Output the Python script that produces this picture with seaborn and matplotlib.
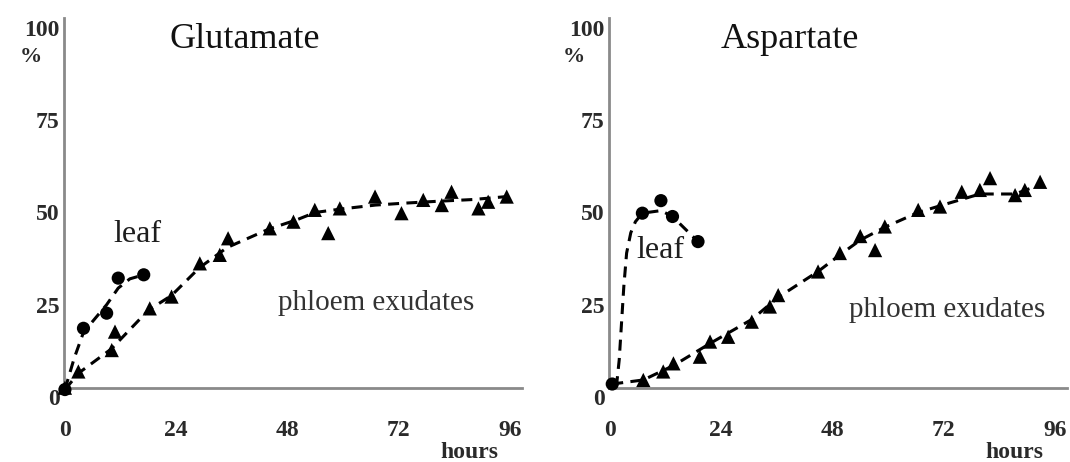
import matplotlib
matplotlib.use("Agg")
import matplotlib.pyplot as plt
import seaborn as sns

# ---- Glutamate -------------------------------------------------------------
glu_leaf_h = [0, 4, 9, 11.5, 17]
glu_leaf_pct = [2.0, 18.6, 22.7, 32.2, 33.1]
glu_leaf_trend_h = [0, 2, 4, 6, 9, 11.5, 14, 17]
glu_leaf_trend_pct = [2.0, 10.5, 17.5, 20.5, 25.0, 29.5, 32.0, 33.1]

glu_phl_h = [0, 2.9, 10.1, 10.8, 18.3, 23, 29.1, 33.4, 35.2, 44.2, 49.3,
             53.9, 56.8, 59.3, 66.9, 72.6, 77.3, 81.3, 83.4, 89.2, 91.3, 95.3]
glu_phl_pct = [2.5, 6.9, 12.7, 17.7, 24.0, 27.2, 36.2, 38.5, 43.0, 45.7, 47.5,
               50.7, 44.4, 51.1, 54.3, 49.8, 53.4, 52.0, 55.6, 51.1, 52.9, 54.3]
glu_phl_trend_h = [0, 3, 10, 18, 23, 29, 35, 44, 50, 54, 60, 67, 73, 80, 88, 95.3]
glu_phl_trend_pct = [2.0, 6.5, 13.0, 23.5, 27.5, 35.0, 40.5, 45.5, 48.0, 50.0,
                     51.0, 52.0, 52.5, 53.0, 53.5, 54.3]

# ---- Aspartate -------------------------------------------------------------
asp_leaf_h = [0.5, 7, 11, 13.5, 19]
asp_leaf_pct = [3.5, 49.8, 53.2, 48.9, 42.1]
asp_leaf_trend_h = [0.5, 1.5, 2.0, 2.5, 3.0, 3.6, 4.5, 5.5, 7, 11, 13.5, 19]
asp_leaf_trend_pct = [3.5, 4.0, 10.0, 20.0, 30.0, 39.0, 44.5, 47.5, 49.8, 50.5,
                      48.9, 42.1]

asp_phl_h = [7.2, 11.5, 13.7, 19.4, 21.6, 25.5, 30.6, 34.5, 36.3, 44.9, 49.6,
             54.0, 57.2, 59.3, 66.5, 71.2, 75.9, 79.8, 82.0, 87.4, 89.5, 92.8]
asp_phl_pct = [4.6, 6.9, 9.1, 10.9, 15.0, 16.3, 20.4, 24.5, 27.6, 34.0, 39.0,
               43.6, 39.8, 46.2, 50.7, 51.6, 55.6, 56.1, 59.3, 54.7, 56.1, 58.3]
asp_phl_trend_h = [0.5, 7.2, 13.7, 21.6, 30.6, 36.3, 44.9, 49.6, 54.0, 59.3,
                   66.5, 71.2, 79.8, 87.4, 92.8]
asp_phl_trend_pct = [3.5, 4.6, 8.5, 14.5, 21.0, 27.0, 34.0, 38.5, 42.5, 46.0,
                     50.0, 51.8, 55.0, 55.0, 57.5]

hour_ticks = [0, 24, 48, 72, 96]
pct_ticks = [0, 25, 50, 75, 100]

sns.set_style("white")
plt.rcParams["font.family"] = ["Liberation Serif", "DejaVu Serif"]

fig = plt.figure(figsize=(10.7, 4.62), dpi=100)
W, H = 1070, 462
ax_glu = fig.add_axes([64 / W, 54 / H, 458 / W, 390 / H])
ax_asp = fig.add_axes([609 / W, 54 / H, 458 / W, 390 / H])

AXIS_Y = 2.4   # data level where the horizontal axis line sits
TOP = 102.7
INK = "#1e1e1e"
LABEL = "#2a2a2a"


def dashed(ax, x, y):
    sns.lineplot(x=x, y=y, ax=ax, color="black", linewidth=2.2,
                 sort=False, estimator=None, zorder=2)
    line = ax.lines[-1]
    line.set_dashes([3.6, 2.4])
    line.set_dash_capstyle("butt")


def panel(ax, title, leaf_h, leaf_pct, leaf_th, leaf_tp,
          phl_h, phl_pct, phl_th, phl_tp, leaf_xy, phl_xy, pct_x):
    dashed(ax, leaf_th, leaf_tp)
    dashed(ax, phl_th, phl_tp)
    sns.scatterplot(x=phl_h, y=phl_pct, ax=ax, marker="^", s=105,
                    color="black", edgecolor="none", zorder=3, clip_on=False)
    sns.scatterplot(x=leaf_h, y=leaf_pct, ax=ax, marker="o", s=90,
                    color="black", edgecolor="none", zorder=3, clip_on=False)

    # axis frame first: moving a spine resets the tick objects
    for side in ("top", "right"):
        ax.spines[side].set_visible(False)
    for side in ("left", "bottom"):
        ax.spines[side].set_color("#8a8a8a")
        ax.spines[side].set_linewidth(2.0)
    ax.spines["bottom"].set_position(("data", AXIS_Y))
    ax.spines["left"].set_bounds(AXIS_Y, TOP)

    ax.set_xlim(-0.2, 98.6)
    ax.set_ylim(-3, TOP)
    ax.tick_params(axis="both", length=0, labelsize=17, colors=LABEL)
    ax.tick_params(axis="x", pad=23)
    ax.tick_params(axis="y", pad=3)
    ax.set_xticks(hour_ticks)
    ax.set_yticks(pct_ticks)
    ax.set_xticklabels([str(t) for t in hour_ticks], fontweight="bold")
    ax.set_yticklabels([str(t) for t in pct_ticks], fontweight="bold")
    ax.set_xlabel("")
    ax.set_ylabel("")

    ax.text(0.395, 0.944, title, transform=ax.transAxes, fontsize=26,
            ha="center", va="center", color="#111111")
    ax.text(pct_x, 92.1, "%", transform=ax.get_yaxis_transform(),
            fontsize=16, ha="center", va="center", color=LABEL,
            fontweight="bold")
    ax.text(0.886, -0.113, "hours", transform=ax.transAxes, fontsize=17,
            ha="center", va="center", color=LABEL, fontweight="bold")
    ax.text(leaf_xy[0], leaf_xy[1], "leaf", fontsize=23, ha="center",
            va="center", color=INK)
    ax.text(phl_xy[0], phl_xy[1], "phloem exudates", fontsize=21,
            ha="center", va="center", color="#333333")


panel(ax_glu, "Glutamate", glu_leaf_h, glu_leaf_pct, glu_leaf_trend_h,
      glu_leaf_trend_pct, glu_phl_h, glu_phl_pct, glu_phl_trend_h,
      glu_phl_trend_pct, (15.7, 43.9), (67.1, 25.5), -0.072)
panel(ax_asp, "Aspartate", asp_leaf_h, asp_leaf_pct, asp_leaf_trend_h,
      asp_leaf_trend_pct, asp_phl_h, asp_phl_pct, asp_phl_trend_h,
      asp_phl_trend_pct, (10.8, 39.8), (72.7, 23.6), -0.077)

fig.savefig("out.png", dpi=100, facecolor="white")
